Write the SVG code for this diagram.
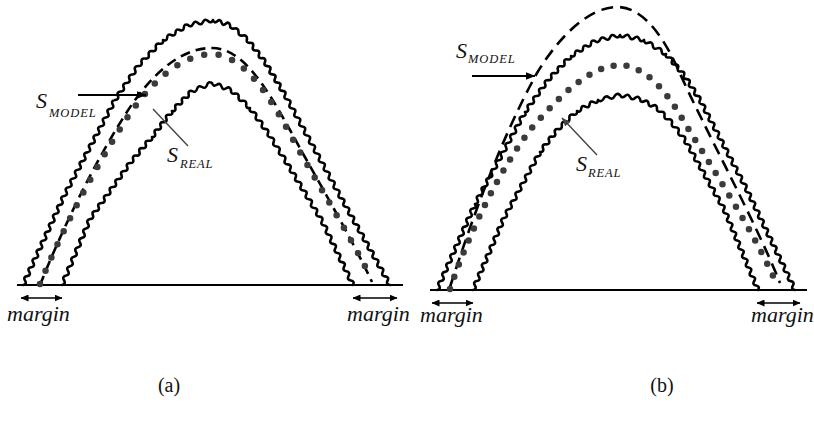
<svg xmlns="http://www.w3.org/2000/svg" width="814" height="428" viewBox="0 0 814 428">
<defs>
<style>
.wavy{fill:none;stroke:#000;stroke-width:2.6;stroke-linejoin:round;stroke-linecap:round}
.dash{fill:none;stroke:#000;stroke-width:2.6}
.dots{fill:none;stroke:#3b3b3b;stroke-width:6.5;stroke-linecap:round}
.base{stroke:#000;stroke-width:2}
.marg{stroke:#000;stroke-width:1.6;fill:none}
.ptr{stroke:#000;stroke-width:2;fill:none}
.real{stroke:#444;stroke-width:1.4;fill:none}
.lbl{font-family:"Liberation Serif","DejaVu Serif",serif;font-style:italic;fill:#111}
.cap{font-family:"Liberation Serif","DejaVu Serif",serif;font-size:20px;fill:#111}
</style>
<marker id="mh" viewBox="0 0 8 7" refX="7.5" refY="3.5" markerWidth="8" markerHeight="7" markerUnits="userSpaceOnUse" orient="auto-start-reverse">
<path d="M0,0 L8,3.5 L0,7 z" fill="#000"/>
</marker>
<marker id="ph" viewBox="0 0 10 8" refX="9.5" refY="4" markerWidth="10" markerHeight="8" markerUnits="userSpaceOnUse" orient="auto">
<path d="M0,0 L10,4 L0,8 z" fill="#000"/>
</marker>
<marker id="rh" viewBox="0 0 9 7" refX="8.5" refY="3.5" markerWidth="9" markerHeight="7" markerUnits="userSpaceOnUse" orient="auto">
<path d="M0,0 L9,3.5 L0,7 z" fill="#444"/>
</marker>
</defs>
<rect width="814" height="428" fill="#fff"/>

<g id="panel-a">
<line class="base" x1="17" y1="285" x2="403" y2="285"/>
<path id="a-outer" class="wavy" d="
M23,285q4.21,-0.77 2.05,-4.45
t2.05,-4.45t2.05,-4.45t2.05,-4.45t2.05,-4.45t2.05,-4.45
t2.05,-4.45t2.05,-4.45t2.05,-4.45t2.05,-4.45t2.05,-4.45
t2.05,-4.45t2.05,-4.45t2.05,-4.45t2.05,-4.45t2.05,-4.45
t2.05,-4.45t2.05,-4.45t2.05,-4.45t2.05,-4.45
M64,196q4.25,-0.54 2.318,-4.364
t2.318,-4.364t2.318,-4.364t2.318,-4.364t2.318,-4.364t2.318,-4.364
t2.318,-4.364t2.318,-4.364t2.318,-4.364t2.318,-4.364t2.318,-4.364
t2.318,-4.364t2.318,-4.364t2.318,-4.364t2.318,-4.364t2.318,-4.364
t2.318,-4.364t2.318,-4.364t2.318,-4.364t2.318,-4.364t2.318,-4.364
t2.318,-4.364
M115,100q4.34,-0.17 2.875,-4.25
t2.875,-4.25t2.875,-4.25t2.875,-4.25t2.875,-4.25t2.875,-4.25
t2.875,-4.25t2.875,-4.25
M138,66q4.31,0.57 3.571,-3.714
t3.571,-3.714t3.571,-3.714t3.571,-3.714t3.571,-3.714t3.571,-3.714
t3.571,-3.714
M163,40q3.88,1.75 4.167,-2.5
t4.167,-2.5t4.167,-2.5t4.167,-2.5t4.167,-2.5t4.167,-2.5
M188,25q3.19,2.93 5,-1
t5,-1t5,-1t5,-1t5,-1
M213,20q1.14,3.99 4.25,1.25
t4.25,1.25t4.25,1.25t4.25,1.25
M230,25q-0.10,4.45 4.25,3.5
t4.25,3.5t4.25,3.5t4.25,3.5
M247,39q-1.25,4.07 3,3.833
t3,3.833t3,3.833t3,3.833t3,3.833t3,3.833
M265,62q-1.75,3.88 2.5,4.125
t2.5,4.125t2.5,4.125t2.5,4.125t2.5,4.125t2.5,4.125
t2.5,4.125t2.5,4.125
M285,95q-1.84,3.93 2.4545,4.5
t2.4545,4.5t2.4545,4.5t2.4545,4.5t2.4545,4.5t2.4545,4.5
t2.4545,4.5t2.4545,4.5t2.4545,4.5t2.4545,4.5t2.4545,4.5
t2.4545,4.5t2.4545,4.5t2.4545,4.5t2.4545,4.5t2.4545,4.5
t2.4545,4.5t2.4545,4.5t2.4545,4.5t2.4545,4.5t2.4545,4.5
t2.4545,4.5
M339,194q-1.84,3.88 2.4286,4.3333
t2.4286,4.3333t2.4286,4.3333t2.4286,4.3333t2.4286,4.3333t2.4286,4.3333
t2.4286,4.3333t2.4286,4.3333t2.4286,4.3333t2.4286,4.3333t2.4286,4.3333
t2.4286,4.3333t2.4286,4.3333t2.4286,4.3333t2.4286,4.3333t2.4286,4.3333
t2.4286,4.3333t2.4286,4.3333t2.4286,4.3333t2.4286,4.3333t2.4286,4.3333"/>
<path id="a-inner" class="wavy" d="
M62,285q4.22,-0.99 2,-4.714
t2,-4.714t2,-4.714t2,-4.714t2,-4.714t2,-4.714
t2,-4.714t2,-4.714t2,-4.714t2,-4.714t2,-4.714
t2,-4.714t2,-4.714t2,-4.714
M90,219q4.28,0.03 2.857,-4
t2.857,-4t2.857,-4t2.857,-4t2.857,-4t2.857,-4
t2.857,-4t2.857,-4t2.857,-4t2.857,-4t2.857,-4
t2.857,-4t2.857,-4t2.857,-4
M130,163q4.24,0.40 3.143,-3.714
t3.143,-3.714t3.143,-3.714t3.143,-3.714t3.143,-3.714t3.143,-3.714
t3.143,-3.714
M152,137q4.20,0.28 2.857,-3.714
t2.857,-3.714t2.857,-3.714t2.857,-3.714t2.857,-3.714t2.857,-3.714
t2.857,-3.714
M172,111q4.14,0.81 3.333,-3.333
t3.333,-3.333t3.333,-3.333t3.333,-3.333t3.333,-3.333t3.333,-3.333
M192,91q3.80,2.25 5,-2
t5,-2t5,-2t5,-2
M212,83q1.17,4.16 4.75,1.75
t4.75,1.75t4.75,1.75t4.75,1.75
M231,90q-0.51,4.34 3.8,3.6
t3.8,3.6t3.8,3.6t3.8,3.6t3.8,3.6
M250,108q-1.34,4.13 3,4.1667
t3,4.1667t3,4.1667t3,4.1667t3,4.1667t3,4.1667
M268,133q-1.55,4.11 2.8333,4.5
t2.8333,4.5t2.8333,4.5t2.8333,4.5t2.8333,4.5t2.8333,4.5
M285,160q-1.67,4.0 2.6429,4.3571
t2.6429,4.3571t2.6429,4.3571t2.6429,4.3571t2.6429,4.3571t2.6429,4.3571
t2.6429,4.3571t2.6429,4.3571t2.6429,4.3571t2.6429,4.3571t2.6429,4.3571
t2.6429,4.3571t2.6429,4.3571t2.6429,4.3571
M322,221q-2.04,3.81 2.2143,4.5714
t2.2143,4.5714t2.2143,4.5714t2.2143,4.5714t2.2143,4.5714t2.2143,4.5714
t2.2143,4.5714t2.2143,4.5714t2.2143,4.5714t2.2143,4.5714t2.2143,4.5714
t2.2143,4.5714t2.2143,4.5714t2.2143,4.5714"/>
<path id="a-model" class="dash" stroke-dasharray="10 6" d="M40,285 C60,235 90,170 125,115 C150,75 180,48 212,48 C242,48 265,85 290,130 C320,185 350,235 372,282"/>
<path id="a-real" class="dots" stroke-dasharray="0 14.5" d="M40,284 C60,235 92,172 127,118 C152,80 182,55 212,54 C242,55 266,90 290,134 C318,185 348,232 370,276"/>
</g>

<g id="panel-b">
<line class="base" x1="430" y1="290" x2="807" y2="290"/>
<path id="b-outer" class="wavy" d="
M437,290q4.20,-0.85 2,-4.5263
t2,-4.5263t2,-4.5263t2,-4.5263t2,-4.5263t2,-4.5263
t2,-4.5263t2,-4.5263t2,-4.5263t2,-4.5263t2,-4.5263
t2,-4.5263t2,-4.5263t2,-4.5263t2,-4.5263t2,-4.5263
t2,-4.5263t2,-4.5263t2,-4.5263
M475,204q4.27,-0.52 2.381,-4.381
t2.381,-4.381t2.381,-4.381t2.381,-4.381t2.381,-4.381t2.381,-4.381
t2.381,-4.381t2.381,-4.381t2.381,-4.381t2.381,-4.381t2.381,-4.381
t2.381,-4.381t2.381,-4.381t2.381,-4.381t2.381,-4.381t2.381,-4.381
t2.381,-4.381t2.381,-4.381t2.381,-4.381t2.381,-4.381t2.381,-4.381
M525,112q4.28,0.04 2.875,-4
t2.875,-4t2.875,-4t2.875,-4t2.875,-4t2.875,-4
t2.875,-4t2.875,-4
M548,80q4.17,0.71 3.2857,-3.4286
t3.2857,-3.4286t3.2857,-3.4286t3.2857,-3.4286t3.2857,-3.4286t3.2857,-3.4286
t3.2857,-3.4286
M571,56q3.86,1.72 4,-2.5
t4,-2.5t4,-2.5t4,-2.5t4,-2.5t4,-2.5
M595,41q3.32,2.80 5,-1.2
t5,-1.2t5,-1.2t5,-1.2t5,-1.2
M620,35q1.69,3.93 4.8,1
t4.8,1t4.8,1t4.8,1t4.8,1
M644,40q0.32,4.35 4.4,2.8
t4.4,2.8t4.4,2.8t4.4,2.8t4.4,2.8
M666,54q-1.16,4.03 3,3.5
t3,3.5t3,3.5t3,3.5t3,3.5t3,3.5
M684,75q-1.62,3.97 2.6667,4.1667
t2.6667,4.1667t2.6667,4.1667t2.6667,4.1667t2.6667,4.1667t2.6667,4.1667
M700,100q-1.95,3.82 2.3,4.4
t2.3,4.4t2.3,4.4t2.3,4.4t2.3,4.4t2.3,4.4
t2.3,4.4t2.3,4.4t2.3,4.4t2.3,4.4t2.3,4.4
t2.3,4.4t2.3,4.4t2.3,4.4t2.3,4.4t2.3,4.4
t2.3,4.4t2.3,4.4t2.3,4.4t2.3,4.4
M746,188q-2.09,3.74 2.1304,4.4348
t2.1304,4.4348t2.1304,4.4348t2.1304,4.4348t2.1304,4.4348t2.1304,4.4348
t2.1304,4.4348t2.1304,4.4348t2.1304,4.4348t2.1304,4.4348t2.1304,4.4348
t2.1304,4.4348t2.1304,4.4348t2.1304,4.4348t2.1304,4.4348t2.1304,4.4348
t2.1304,4.4348t2.1304,4.4348t2.1304,4.4348t2.1304,4.4348t2.1304,4.4348
t2.1304,4.4348t2.1304,4.4348"/>
<path id="b-inner" class="wavy" d="
M473,290q4.19,-0.87 1.9375,-4.5
t1.9375,-4.5t1.9375,-4.5t1.9375,-4.5t1.9375,-4.5t1.9375,-4.5
t1.9375,-4.5t1.9375,-4.5t1.9375,-4.5t1.9375,-4.5t1.9375,-4.5
t1.9375,-4.5t1.9375,-4.5t1.9375,-4.5t1.9375,-4.5t1.9375,-4.5
M504,218q4.27,-0.52 2.4,-4.4
t2.4,-4.4t2.4,-4.4t2.4,-4.4t2.4,-4.4t2.4,-4.4
t2.4,-4.4t2.4,-4.4t2.4,-4.4t2.4,-4.4t2.4,-4.4
t2.4,-4.4t2.4,-4.4t2.4,-4.4t2.4,-4.4
M540,152q4.26,0.24 3,-3.8333
t3,-3.8333t3,-3.8333t3,-3.8333t3,-3.8333t3,-3.8333
M558,129q4.31,0.74 3.8,-3.6
t3.8,-3.6t3.8,-3.6t3.8,-3.6t3.8,-3.6
M577,111q3.72,2.0 4.2,-2.2
t4.2,-2.2t4.2,-2.2t4.2,-2.2t4.2,-2.2
M598,100q3.53,2.79 5.5,-1.25
t5.5,-1.25t5.5,-1.25t5.5,-1.25
M620,95q1.81,3.93 5,1
t5,1t5,1t5,1
M640,99q0.49,4.22 4.25,2.25
t4.25,2.25t4.25,2.25t4.25,2.25
M657,108q-0.6,4.35 3.75,3.75
t3.75,3.75t3.75,3.75t3.75,3.75
M672,123q-1.15,4.25 3.25,4.25
t3.25,4.25t3.25,4.25t3.25,4.25
M685,140q-1.83,3.88 2.4375,4.3125
t2.4375,4.3125t2.4375,4.3125t2.4375,4.3125t2.4375,4.3125t2.4375,4.3125
t2.4375,4.3125t2.4375,4.3125t2.4375,4.3125t2.4375,4.3125t2.4375,4.3125
t2.4375,4.3125t2.4375,4.3125t2.4375,4.3125t2.4375,4.3125t2.4375,4.3125
M724,209q-2.29,3.60 1.8889,4.5
t1.8889,4.5t1.8889,4.5t1.8889,4.5t1.8889,4.5t1.8889,4.5
t1.8889,4.5t1.8889,4.5t1.8889,4.5t1.8889,4.5t1.8889,4.5
t1.8889,4.5t1.8889,4.5t1.8889,4.5t1.8889,4.5t1.8889,4.5
t1.8889,4.5t1.8889,4.5"/>
<path id="b-model" class="dash" stroke-dasharray="12 7" d="M450,287 C470,225 500,140 537,73 C560,35 590,7 617,7 C640,7 660,30 677,67 C705,130 755,220 780,283"/>
<path id="b-real" class="dots" stroke-dasharray="0 13" d="M450,289 C470,230 500,170 530,130 C560,95 590,66 620,65 C645,66 665,90 680,115 C710,165 750,225 775,280"/>
</g>

<g id="connectors">
<line class="marg" x1="21" y1="298" x2="62" y2="298" marker-start="url(#mh)" marker-end="url(#mh)"/>
<line class="marg" x1="353" y1="298" x2="397" y2="298" marker-start="url(#mh)" marker-end="url(#mh)"/>
<line class="marg" x1="432" y1="303" x2="473" y2="303" marker-start="url(#mh)" marker-end="url(#mh)"/>
<line class="marg" x1="757" y1="303" x2="800" y2="303" marker-start="url(#mh)" marker-end="url(#mh)"/>
<line class="ptr" x1="78" y1="95" x2="146" y2="95" marker-end="url(#ph)"/>
<line class="ptr" x1="472" y1="76" x2="535" y2="76" marker-end="url(#ph)"/>
<line class="real" x1="188" y1="146" x2="153" y2="109"/>
<line class="real" x1="597" y1="155" x2="562" y2="118" marker-end="url(#rh)"/>
</g>

<g id="labels">
<text class="lbl" x="7" y="321" font-size="22">margin</text>
<text class="lbl" x="347" y="321" font-size="22">margin</text>
<text class="lbl" x="420" y="322" font-size="22">margin</text>
<text class="lbl" x="751" y="322" font-size="22">margin</text>
<text class="lbl" x="36" y="108" font-size="22">S</text>
<text class="lbl" x="49" y="117" font-size="12.5" letter-spacing="0.9">MODEL</text>
<text class="lbl" x="167" y="162" font-size="22">S</text>
<text class="lbl" x="180" y="168" font-size="12.5" letter-spacing="0.9">REAL</text>
<text class="lbl" x="456" y="58" font-size="22">S</text>
<text class="lbl" x="468" y="63" font-size="12.5" letter-spacing="0.9">MODEL</text>
<text class="lbl" x="576" y="171" font-size="22">S</text>
<text class="lbl" x="588" y="177" font-size="12.5" letter-spacing="0.9">REAL</text>
<text class="cap" x="169" y="392" text-anchor="middle">(a)</text>
<text class="cap" x="662" y="392" text-anchor="middle">(b)</text>
</g>
</svg>
